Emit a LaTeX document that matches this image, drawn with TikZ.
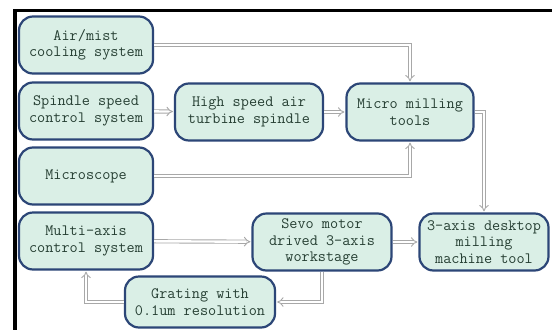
\documentclass[tikz,border=0pt]{standalone}
\usepackage{fontspec}
\usetikzlibrary{arrows.meta}
\definecolor{boxline}{HTML}{2C4677}
\definecolor{boxfill}{HTML}{DAEFE6}
\definecolor{boxtext}{HTML}{263F33}
\definecolor{linkgray}{HTML}{A8A8A8}
\begin{document}
\begin{tikzpicture}
[x=1pt,y=-1pt,
  boxDecorate/.style={shape=rectangle,rounded corners=14pt,draw=boxline,line width=2.2pt,
    fill=boxfill,text=boxtext,align=center,inner sep=0pt,minimum height=57pt,
    font=\ttfamily\fontsize{15.8}{16.5}\selectfont},%
  linkDecorate/.style={draw=linkgray,line width=0.9pt,double=white,double distance=2.4pt,
    -{Implies},shorten >=1pt}]
\useasboundingbox (0,0) rectangle (552,330);
%% frame
\fill[white] (0,0) rectangle (552,330);
\draw[black,line width=3pt] (13,10.5) -- (552,10.5);
\draw[black,line width=4pt] (15,9) -- (15,330);
%% nodes or vertices
\foreach \nodename/\x/\y/\w/\txt in {
  air/86/45/134/{Air/mist\\cooling system},
  spindle/86/111/134/{Spindle speed\\control system},
  turbine/249/112/148/{High speed air\\turbine spindle},
  tools/410/112/127/{Micro milling\\tools},
  scope/86/176/134/{Microscope},
  multi/86/241/134/{Multi-axis\\control system},
  sevo/322/242/139/{Sevo motor\\drived 3-axis\\workstage},
  desk/484/242/129/{3-axis desktop\\milling\\machine tool}}
{
  \node (\nodename) at (\x,\y) [boxDecorate,minimum width=\w pt] {\txt};
}
\node (grating) at (200,302) [boxDecorate,minimum width=150pt,minimum height=51pt]
  {Grating with\\0.1um resolution};
%% edges or lines
\path
\foreach \startnode/\endnode in {spindle/turbine, turbine/tools, multi/sevo, sevo/desk}
{
  (\startnode) edge[linkDecorate] (\endnode)
};
\draw[linkDecorate] (air.east) -| (tools.north);
\draw[linkDecorate] (scope.east) -| (tools.south);
\draw[linkDecorate] (tools.east) -| (desk.north);
\draw[linkDecorate] (sevo.south) |- (grating.east);
\draw[linkDecorate] (grating.west) -| (multi.south);
\end{tikzpicture}
\end{document}
